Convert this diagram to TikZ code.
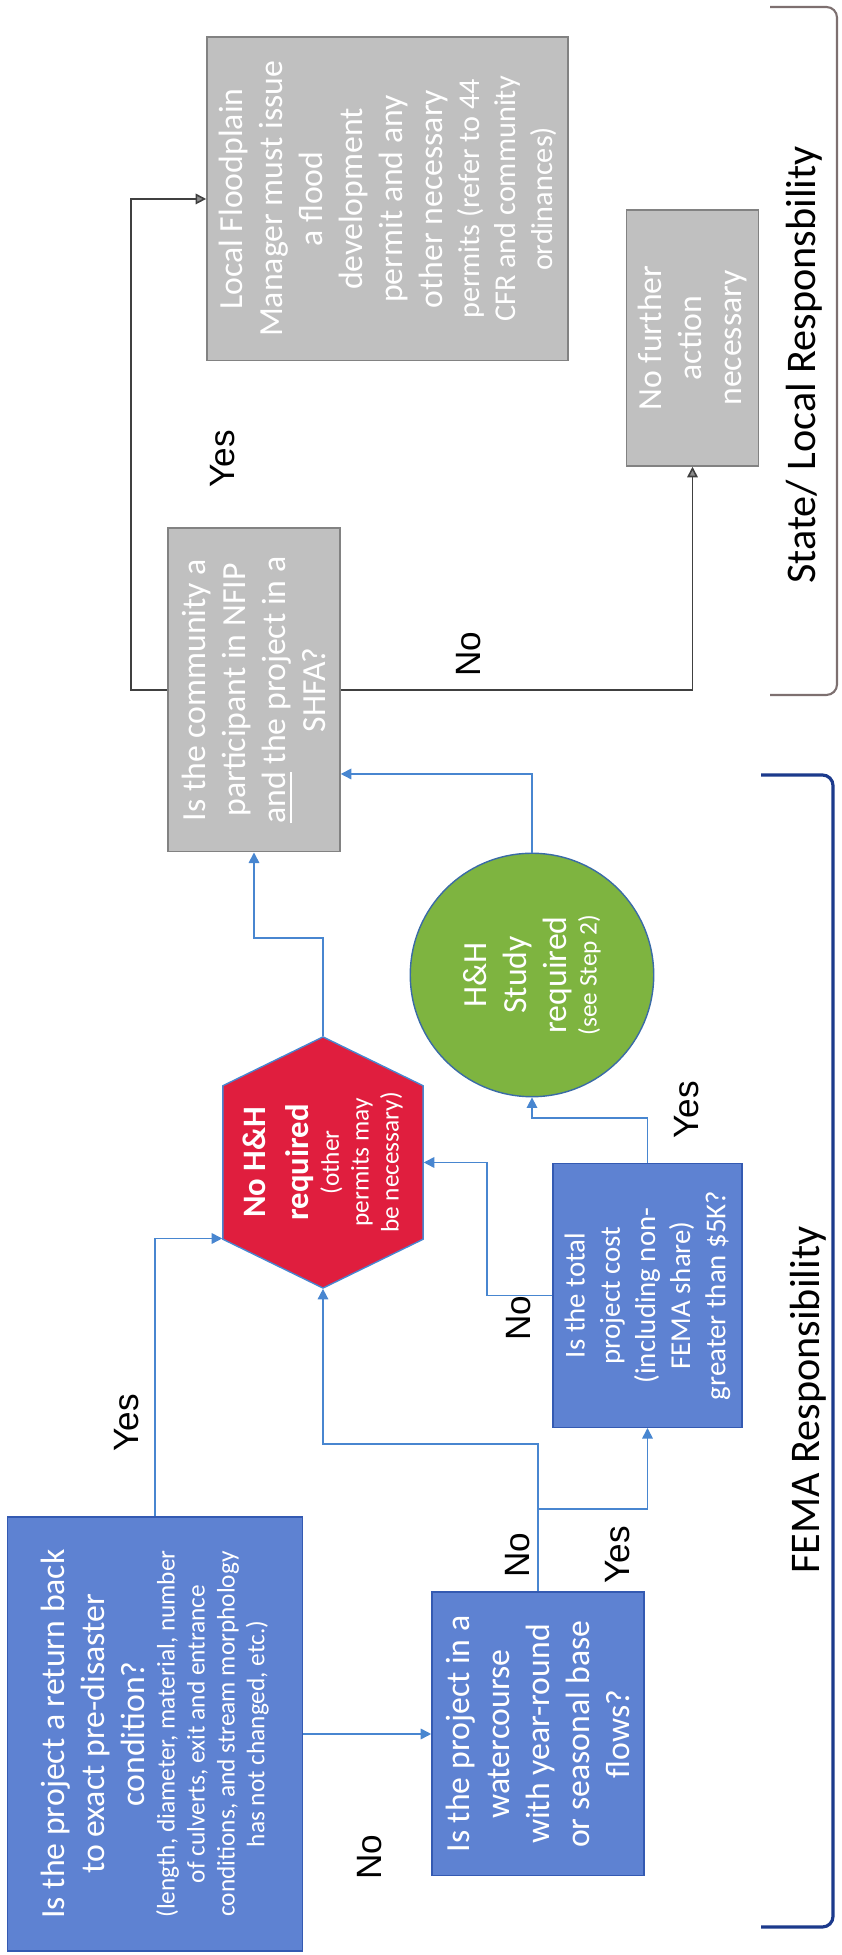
\documentclass[tikz,border=0pt]{standalone}
\usepackage{fontspec}
\setmainfont{Carlito}
\newfontfamily\labelfont{Liberation Sans}
\usetikzlibrary{shapes.symbols, arrows.meta, calc}

\definecolor{qblue}{RGB}{94,130,210}
\definecolor{qblueline}{RGB}{52,90,178}
\definecolor{lgray}{RGB}{192,192,192}
\definecolor{lgrayline}{RGB}{130,130,130}
\definecolor{hexred}{RGB}{224,30,62}
\definecolor{hhgreen}{RGB}{126,180,64}
\definecolor{flowblue}{RGB}{72,134,208}
\definecolor{femablue}{RGB}{28,58,140}
\definecolor{statebrown}{RGB}{125,112,112}

\newcommand{\boxfont}{\fontsize{9.6}{11.4}\selectfont}
\newcommand{\notefont}{\fontsize{7.2}{8.5}\selectfont}

\tikzset{
  question/.style={draw=qblueline, fill=qblue, text=white, align=flush center, font=\boxfont},
  localbox/.style={draw=lgrayline, fill=lgray, text=white, align=flush center, font=\boxfont},
  hexnode/.style={shape=signal, signal to=east and west, signal pointer angle=128,
    draw=flowblue, fill=hexred, text=white, align=flush center, inner xsep=0pt},
  hhnode/.style={circle, draw=flowblue!80!black, fill=hhgreen, text=white, align=flush center, font=\boxfont},
  flow/.style={draw=flowblue, line width=0.45pt, -{Triangle[length=3pt,width=3pt]}},
  flowdark/.style={draw=black!75, line width=0.45pt, -{Triangle[length=3pt,width=3pt,fill=black!45]}},
  answer/.style={font=\labelfont\fontsize{10}{12}\selectfont},
  section/.style={font=\fontsize{12}{14}\selectfont},
}

\begin{document}
\begin{tikzpicture}[x=0.01cm, y=0.01cm, rotate=90, transform shape]
    \useasboundingbox (0,0) rectangle (1955,841);

    % FEMA side
    \node[question, minimum width=4.32cm, minimum height=2.95cm, text width=4.1cm] (q1) at (221,686)
        {Is the project a return back\\to exact pre-disaster\\condition?\par
         {\notefont(length, diameter, material, number\\of culverts, exit and entrance\\conditions, and stream morphology\\has not changed, etc.)\par}};
    \node[question, minimum width=2.78cm, minimum height=2.12cm, text width=2.6cm] (q2) at (221,303)
        {Is the project in a\\watercourse\\with year-round\\or seasonal base\\flows?};
    \node[question, minimum width=2.51cm, minimum height=1.89cm, text width=2.4cm,
          font=\fontsize{8.2}{10}\selectfont] (q3) at (659.5,193.5)
        {Is the total\\project cost\\(including non-\\FEMA share)\\greater than \$5K?};
    \node[hexnode, minimum width=2.51cm, minimum height=2cm, text width=1.45cm] (nohh) at (792.5,518)
        {\fontsize{9.3}{12.2}\selectfont\bfseries No H\&H\\required\par
         {\notefont\mdseries(other\\permits may\\be necessary)\par}};
    \node[hhnode, minimum size=2.12cm, text width=1.6cm] (study) at (980,309)
        {H\&H\\Study\\required\par{\notefont(see Step 2)\par}};

    % State / local side
    \node[localbox, minimum width=3.14cm, minimum height=1.72cm, text width=3.0cm] (q4) at (1265,587)
        {Is the community a\\participant in NFIP\\\underline{and} the project in a\\SHFA?};
    \node[localbox, minimum width=3.14cm, minimum height=3.55cm, text width=3.0cm] (permit) at (1756,453.5)
        {Local Floodplain\\Manager must issue\\a flood\\development\\permit and any\\other necessary\par
         {\fontsize{8.6}{10.4}\selectfont permits (refer to 44\\CFR and community\\ordinances)\par}};
    \node[localbox, minimum width=2.56cm, minimum height=1.29cm, text width=2.3cm] (nofurther) at (1617,148.5)
        {No further\\action\\necessary};

    \coordinate (hexnw) at ($(nohh.north)+(-76,0)$);
    \coordinate (fork) at (446,303);
    \coordinate (turn) at (511,303);
    \coordinate (q4in) at ($(q4.south)+(-84,0)$);

    % connectors
    \draw[flow] (q1.east) -| (hexnw);
    \draw[flow] (q1.south) -- (q2.north);
    \draw[flow] (q2.east) -- (turn) |- (nohh.west);
    \draw[flow] (fork) |- (q3.west);
    \draw[flow] (q3.east) -- ++(45,0) |- (study.west);
    \draw[flow] (q3.north) -- ++(0,65) -| (nohh.south);
    \draw[flow] (nohh.east) -- ++(98,0) |- (q4.west);
    \draw[flow] (study.east) -| (q4in);
    \draw[flowdark] (q4.north) -- ++(0,36) -| (permit.north);
    \draw[flowdark] (q4.south) |- (nofurther.west);

    \node[answer] (yes1) at (532,714) {Yes};
    \node[answer] (no1)  at (98,471)  {No};
    \node[answer] (no2)  at (400,323) {No};
    \node[answer] (yes2) at (400,223) {Yes};
    \node[answer] (yes3) at (845,154) {Yes};
    \node[answer] (no3)  at (637,322) {No};
    \node[answer] (yes4) at (1496,618) {Yes};
    \node[answer] (no4)  at (1301,372) {No};

    % responsibility brackets
    \draw[femablue, line width=0.9pt, rounded corners=3] (28,80) -- (28,8) -- (1180,8) -- (1180,80);
    \draw[statebrown, line width=0.6pt, rounded corners=3] (1260,71) -- (1260,4) -- (1948,4) -- (1948,71);
    \node[section] (fema) at (555,33) {FEMA Responsibility};
    \node[section] (state) at (1590,37) {State/ Local Responsbility};
\end{tikzpicture}
\end{document}
